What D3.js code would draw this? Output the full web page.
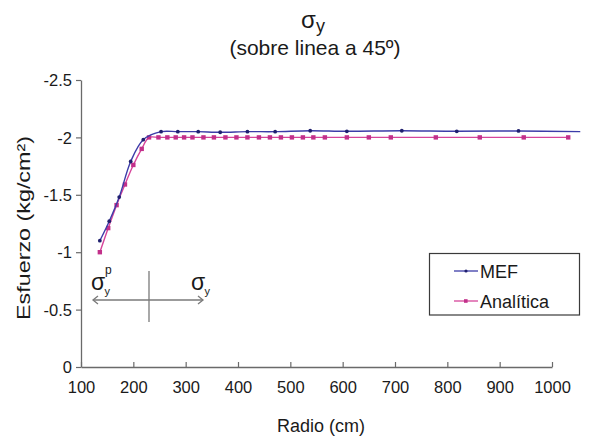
<!DOCTYPE html>
<html>
<head>
<meta charset="utf-8">
<script src="https://cdn.jsdelivr.net/npm/d3@7"></script>
<style>
  html, body { margin: 0; padding: 0; background: #fff; }
  svg { display: block; font-family: "Liberation Sans", Arial, sans-serif; }
</style>
</head>
<body>
<svg id="chart" width="612" height="437"></svg>
<script>
// ---- data ----
const mefX = [136, 154, 173, 195, 219, 253, 285, 324, 366, 418, 471, 538, 608, 713, 818, 936, 1054];
const mefY = [-1.10, -1.27, -1.48, -1.79, -1.98, -2.05, -2.05, -2.05, -2.045, -2.05, -2.05, -2.058, -2.053, -2.058, -2.053, -2.056, -2.05];
const anaX = [136, 152, 168, 184, 200, 216, 230, 248, 265, 281, 297, 313, 334, 354, 376, 397, 418, 440, 461, 482, 503, 524, 544, 566, 608, 650, 692, 778, 862, 946, 1031];
const anaY = [-1.00, -1.21, -1.41, -1.59, -1.76, -1.90, -2.00, -2.00, -2.00, -2.00, -2.00, -2.00, -2.00, -2.00, -2.00, -2.00, -2.00, -2.00, -2.00, -2.00, -2.00, -2.00, -2.00, -2.00, -2.00, -2.00, -2.00, -2.00, -2.00, -2.00, -2.00];
const xTicks = [100, 200, 300, 400, 500, 600, 700, 800, 900, 1000];
const yTicks = [0, -0.5, -1, -1.5, -2, -2.5];
const seriesNames = ["MEF", "Analítica"];

const svg = d3.select("#chart");
const x = d3.scaleLinear().domain([100, 1000]).range([81, 552]);
const y = d3.scaleLinear().domain([0, -2.5]).range([367, 80]);
const axisColor = "#6a6a6a";
const textColor = "#1a1a1a";

// title
const title = svg.append("text").attr("x", 313).attr("y", 28).attr("text-anchor", "middle")
  .attr("fill", textColor).style("font-size", "24px");
title.append("tspan").text("σ");
title.append("tspan").attr("dy", 4).style("font-size", "18px").text("y");
svg.append("text").attr("x", 315).attr("y", 55).attr("text-anchor", "middle")
  .attr("fill", textColor).style("font-size", "21px").text("(sobre linea a 45º)");

// axes
const fmt = d => String(d);
const xAxis = svg.append("g").attr("transform", "translate(0,367)")
  .call(d3.axisBottom(x).tickValues(xTicks).tickSizeInner(-5).tickSizeOuter(0).tickPadding(14).tickFormat(fmt));
const yAxis = svg.append("g").attr("transform", "translate(81,0)")
  .call(d3.axisLeft(y).tickValues(yTicks).tickSize(5).tickSizeOuter(0).tickFormat(fmt).tickPadding(4));
[xAxis, yAxis].forEach(g => {
  g.select(".domain").attr("stroke", axisColor).attr("stroke-width", 1.3);
  g.selectAll(".tick line").attr("stroke", axisColor).attr("stroke-width", 1.2);
  g.selectAll(".tick text").attr("fill", textColor)
    .style("font-size", "16.5px").style("font-family", "'Liberation Sans', Arial, sans-serif");
});
yAxis.selectAll(".tick text").attr("dy", "0.35em");

// axis titles
svg.append("text").attr("x", 321).attr("y", 432).attr("text-anchor", "middle")
  .attr("fill", textColor).style("font-size", "18px").text("Radio (cm)");
svg.append("text").attr("transform", "translate(30,228) rotate(-90)")
  .attr("text-anchor", "middle").attr("fill", textColor).style("font-size", "19px")
  .attr("textLength", 184).attr("lengthAdjust", "spacingAndGlyphs")
  .text("Esfuerzo (kg/cm²)");

// series
const line = d3.line().x(d => x(d[0])).y(d => y(d[1])).curve(d3.curveCatmullRom.alpha(0.5));
const mef = mefX.map((v, i) => [v, mefY[i]]);
const ana = anaX.map((v, i) => [v, anaY[i]]);
const blue = "#3c3ca8", blueMk = "#1f1f6e";
const pink = "#d6449a", pinkMk = "#c2308a";

svg.append("path").datum(ana).attr("d", line).attr("fill", "none").attr("stroke", pink).attr("stroke-width", 1.4);
svg.selectAll(".mk-a").data(ana).join("rect").attr("class", "mk-a")
  .attr("x", d => x(d[0]) - 2.2).attr("y", d => y(d[1]) - 2.2).attr("width", 4.4).attr("height", 4.4).attr("fill", pinkMk);

svg.append("path").datum(mef).attr("d", line).attr("fill", "none").attr("stroke", blue).attr("stroke-width", 1.4);
svg.selectAll(".mk-m").data(mef.slice(0, mef.length - 1)).join("circle").attr("class", "mk-m")
  .attr("cx", d => x(d[0])).attr("cy", d => y(d[1])).attr("r", 1.9).attr("fill", blueMk);

// legend
const lg = svg.append("g");
lg.append("rect").attr("x", 429.5).attr("y", 253.5).attr("width", 150).attr("height", 61.5)
  .attr("fill", "#fff").attr("stroke", "#3a3a3a").attr("stroke-width", 1.2);
[[blue, blueMk, 271, "circle"], [pink, pinkMk, 301, "rect"]].forEach((s, i) => {
  lg.append("line").attr("x1", 454).attr("x2", 478).attr("y1", s[2]).attr("y2", s[2]).attr("stroke", s[0]).attr("stroke-width", 1.3);
  if (s[3] === "circle") lg.append("circle").attr("cx", 466).attr("cy", s[2]).attr("r", 1.6).attr("fill", s[1]);
  else lg.append("rect").attr("x", 464).attr("y", s[2] - 1.8).attr("width", 3.6).attr("height", 3.6).attr("fill", s[1]);
  lg.append("text").attr("x", 480).attr("y", s[2] + 6.5).attr("fill", textColor)
    .style("font-size", "18px").text(seriesNames[i]);
});

// inset sketch (sigma_y^p <-> sigma_y)
const ins = svg.append("g").attr("stroke", "#7a7a7a").attr("fill", "none").attr("stroke-width", 1.3);
ins.append("line").attr("x1", 93).attr("x2", 203).attr("y1", 300).attr("y2", 300);
ins.append("line").attr("x1", 149).attr("x2", 149).attr("y1", 271).attr("y2", 322);
ins.append("path").attr("d", "M98,296 L93,300 L98,304");
ins.append("path").attr("d", "M198,296 L203,300 L198,304");
const sig = (xx, sup) => {
  const t = svg.append("text").attr("x", xx).attr("y", 290).attr("fill", textColor).style("font-size", "23px");
  t.append("tspan").text("σ");
  t.append("tspan").attr("x", xx + 13.5).attr("dy", 5).style("font-size", "11px").text("y");
  if (sup) svg.append("text").attr("x", xx + 14).attr("y", 274).attr("fill", textColor).style("font-size", "12px").text("p");
};
sig(91, true);
sig(191, false);
</script>
</body>
</html>
